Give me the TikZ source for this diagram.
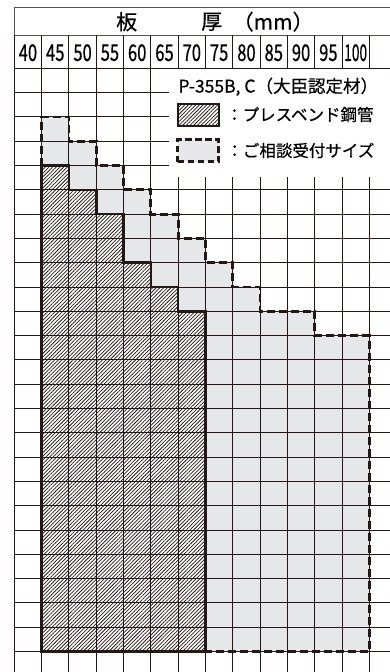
\documentclass[tikz,border=0pt]{standalone}
\usepackage{fontspec}
\setmainfont{Noto Sans CJK JP}[FakeBold=0.5]
\usetikzlibrary{positioning}
\usetikzlibrary{patterns.meta}
\definecolor{ink}{RGB}{35,24,21}
\definecolor{consult}{RGB}{230,231,232}

\begin{document}
\begin{tikzpicture}[x=1pt,y=-1pt,
  gridline/.style={ink, line width=1pt},
  frameline/.style={ink!75, line width=0.8pt},
  pressline/.style={ink, line width=2.6pt, line join=miter},
  consultline/.style={ink, line width=2.8pt, dash pattern=on 8pt off 4pt},
  hatch/.style={pattern={Lines[angle=45,distance=2.6pt,line width=0.75pt]}, pattern color=ink},
  headtext/.style={inner sep=0pt, font=\fontsize{21}{21}\selectfont},
  numlabel/.style={inner sep=0pt, font=\fontsize{23}{23}\selectfont, xscale=0.72},
  legtext/.style={inner sep=0pt, font=\fontsize{16.5}{16.5}\selectfont},
  legbox/.style={minimum width=41pt, minimum height=22pt, inner sep=0pt}]

\useasboundingbox (0,0) rectangle (390,672);
\fill[white] (0,0) rectangle (390,672);

% header
\draw[frameline] (14.3,7.3)--(390,7.3);
\draw[frameline] (14.3,35.7)--(390,35.7);
\draw[frameline] (14.3,7.3)--(14.3,672);

\node[headtext] (ita) at (126.7,21.7) {板};
\node[headtext] (atsu) at (211.7,21.7) {厚};
\node[headtext, anchor=west] (unit) at (232.5,21.7) {（mm）};


\begin{scope}[shift={(14.3,68.3)}, x=27.31pt, y=-24.3pt]
{
% consultation area
\fill[consult] (1,24)--(1,2)--(2,2)--(2,3)--(3,3)--(3,4)--(4,4)--(4,5)--(5,5)--(5,6)--(6,6)--(6,7)--(7,7)--(7,8)--(8,8)--(8,9)--(9,9)--(9,10)--(11,10)--(11,11)--(13,11)--(13,24)--cycle;

% press bend area
\fill[white] (1,24)--(1,4)--(2,4)--(2,5)--(3,5)--(3,6)--(4,6)--(4,8)--(5,8)--(5,9)--(6,9)--(6,10)--(7,10)--(7,24)--cycle;
\fill[hatch] (1,24)--(1,4)--(2,4)--(2,5)--(3,5)--(3,6)--(4,6)--(4,8)--(5,8)--(5,9)--(6,9)--(6,10)--(7,10)--(7,24)--cycle;

% grid
\draw[gridline, xstep=27.31pt, ystep=24.3pt] (0,0) grid (13.76,24.84);
\draw[gridline, xstep=27.31pt, ystep=100pt] (0,-1.37) grid (13.76,0);

% legend ground
\fill[white] (5.66,0.03) rectangle (13.8,4.46);

% outlines
\draw[pressline] (1,24)--(1,4)--(2,4)--(2,5)--(3,5)--(3,6)--(4,6)--(4,8)--(5,8)--(5,9)--(6,9)--(6,10)--(7,10)--(7,24)--cycle;
\draw[consultline] (1,4)--(1,2)--(2,2)--(2,3)--(3,3)--(3,4)--(4,4)--(4,5)--(5,5)--(5,6)--(6,6)--(6,7)--(7,7)--(7,8)--(8,8)--(8,9)--(9,9)--(9,10)--(11,10)--(11,11)--(13,11)--(13,24)--(7,24);

% thickness labels
\node[numlabel] (t40) at (0.5,-0.64) {40};
\node[numlabel] (t45) at (1.5,-0.64) {45};
\node[numlabel] (t50) at (2.5,-0.64) {50};
\node[numlabel] (t55) at (3.5,-0.64) {55};
\node[numlabel] (t60) at (4.5,-0.64) {60};
\node[numlabel] (t65) at (5.5,-0.64) {65};
\node[numlabel] (t70) at (6.5,-0.64) {70};
\node[numlabel] (t75) at (7.5,-0.64) {75};
\node[numlabel] (t80) at (8.5,-0.64) {80};
\node[numlabel] (t85) at (9.5,-0.64) {85};
\node[numlabel] (t90) at (10.5,-0.64) {90};
\node[numlabel] (t95) at (11.5,-0.64) {95};
\node[numlabel, xscale=0.83] (t100) at (12.5,-0.64) {100};
}
\end{scope}


% legend
\node[legtext, anchor=west, font=\fontsize{17.5}{17.5}\selectfont] (matl) at (178.3,86.7) {P-355B, C（大臣認定材）};

\node[legbox, draw=ink, line width=2pt, hatch] (boxPress) at (198,114.5) {};
\node[legbox, fill=consult, draw=ink, line width=2.4pt, dash pattern=on 6.5pt off 3.5pt] (boxConsult) at (198,150.5) {};

\node[legtext, right=6.5pt of boxPress] (txtPress) {：プレスベンド鋼管};
\node[legtext, right=6.5pt of boxConsult] (txtConsult) {：ご相談受付サイズ};

\end{tikzpicture}
\end{document}
